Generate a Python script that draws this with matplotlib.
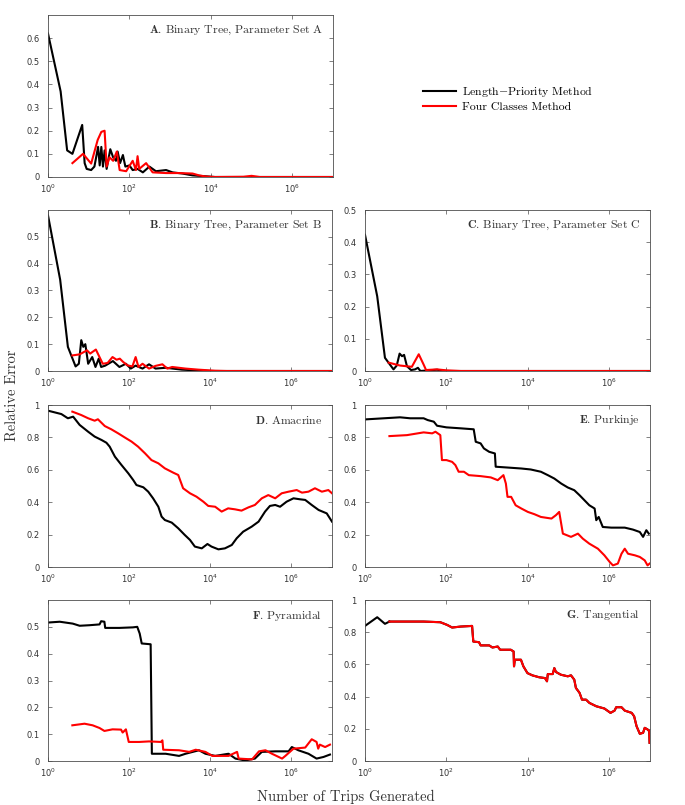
import numpy as np
import matplotlib
matplotlib.use("Agg")
import matplotlib.pyplot as plt
from matplotlib.ticker import FuncFormatter, NullLocator

plt.rcParams['mathtext.fontset'] = 'cm'
plt.rcParams['font.family'] = 'DejaVu Sans'

# ---- data (x given as log10 of trips generated) ----
a_black_logx = [0, 0.31, 0.47, 0.6, 0.84, 0.9, 0.95, 1.06, 1.14, 1.23, 1.27, 1.31, 1.35, 1.39,
                1.44, 1.53, 1.6, 1.67, 1.71, 1.77, 1.84, 1.9, 2.0, 2.08, 2.2, 2.33, 2.49, 2.65,
                2.9, 3.06, 3.3, 3.55, 3.88, 4.1, 7.0]
a_black_err = [0.62, 0.37, 0.115, 0.10, 0.225, 0.06, 0.035, 0.03, 0.045, 0.13, 0.05, 0.13, 0.045,
               0.115, 0.035, 0.12, 0.085, 0.07, 0.11, 0.06, 0.095, 0.045, 0.05, 0.03, 0.035, 0.02,
               0.045, 0.025, 0.03, 0.02, 0.015, 0.007, 0.003, 0.0, 0.0]
a_red_logx = [0.6, 0.86, 1.06, 1.22, 1.31, 1.39, 1.44, 1.51, 1.6, 1.69, 1.76, 1.92, 2.08, 2.16,
              2.2, 2.24, 2.41, 2.57, 2.9, 3.22, 3.55, 3.71, 3.88, 4.1, 4.8, 5.0, 5.2, 7.0]
a_red_err = [0.06, 0.1, 0.058, 0.16, 0.195, 0.2, 0.045, 0.085, 0.07, 0.11, 0.03, 0.025, 0.07, 0.03,
             0.09, 0.035, 0.06, 0.02, 0.017, 0.017, 0.015, 0.007, 0.002, 0.0, 0.001, 0.005, 0.0, 0.0]

b_black_logx = [0, 0.3, 0.49, 0.68, 0.76, 0.82, 0.87, 0.92, 0.99, 1.09, 1.17, 1.25, 1.31, 1.41,
                1.6, 1.76, 1.92, 2.04, 2.16, 2.33, 2.49, 2.65, 2.9, 3.3, 3.71, 4.0, 7.0]
b_black_err = [0.58, 0.34, 0.09, 0.017, 0.027, 0.115, 0.09, 0.1, 0.027, 0.052, 0.015, 0.046, 0.015,
               0.02, 0.037, 0.015, 0.027, 0.009, 0.02, 0.009, 0.025, 0.009, 0.012, 0.005, 0.002,
               0.0, 0.0]
b_red_logx = [0.6, 0.78, 0.96, 1.04, 1.18, 1.25, 1.35, 1.47, 1.59, 1.69, 1.77, 1.85, 1.96, 2.08,
              2.16, 2.23, 2.33, 2.49, 2.65, 2.82, 2.94, 3.06, 3.39, 3.71, 4.12, 4.4, 7.0]
b_red_err = [0.058, 0.062, 0.077, 0.065, 0.08, 0.058, 0.027, 0.03, 0.052, 0.042, 0.046, 0.034,
             0.021, 0.017, 0.052, 0.015, 0.027, 0.009, 0.019, 0.025, 0.009, 0.015, 0.009, 0.005,
             0.001, 0.0, 0.0]

c_black_logx = [0, 0.3, 0.49, 0.7, 0.78, 0.85, 0.91, 0.96, 1.03, 1.13, 1.23, 1.3, 1.36, 1.77,
                1.85, 2.0, 7.0]
c_black_err = [0.423, 0.232, 0.041, 0.005, 0.017, 0.054, 0.046, 0.05, 0.015, 0.003, 0.005, 0.01,
               0.0, 0.004, 0.002, 0.0, 0.0]
c_red_logx = [0.58, 0.86, 1.15, 1.32, 1.44, 1.5, 1.77, 2.0, 2.35, 7.0]
c_red_err = [0.026, 0.017, 0.013, 0.052, 0.02, 0.003, 0.005, 0.002, 0.0, 0.0]

d_black_logx = [0, 0.33, 0.49, 0.62, 0.78, 0.99, 1.15, 1.32, 1.44, 1.52, 1.65, 1.81, 1.98, 2.1,
                2.18, 2.35, 2.47, 2.59, 2.72, 2.8, 2.88, 3.05, 3.21, 3.37, 3.5, 3.62, 3.79, 3.93,
                4.03, 4.2, 4.36, 4.53, 4.65, 4.81, 5.02, 5.19, 5.35, 5.47, 5.6, 5.72, 5.88, 6.05,
                6.21, 6.34, 6.5, 6.67, 6.87, 7.0]
d_black_err = [0.965, 0.944, 0.918, 0.928, 0.877, 0.835, 0.805, 0.784, 0.767, 0.743, 0.681, 0.63,
               0.578, 0.537, 0.506, 0.492, 0.465, 0.424, 0.372, 0.311, 0.29, 0.274, 0.239, 0.198,
               0.167, 0.126, 0.115, 0.142, 0.126, 0.109, 0.115, 0.136, 0.177, 0.218, 0.249, 0.28,
               0.342, 0.377, 0.383, 0.372, 0.403, 0.424, 0.418, 0.414, 0.383, 0.352, 0.331, 0.28]
d_red_logx = [0.6, 0.82, 0.99, 1.15, 1.23, 1.4, 1.56, 1.73, 1.89, 2.06, 2.22, 2.39, 2.55, 2.72,
              2.88, 3.09, 3.21, 3.33, 3.5, 3.66, 3.83, 3.95, 4.12, 4.28, 4.44, 4.61, 4.77, 4.94,
              5.1, 5.27, 5.43, 5.6, 5.76, 5.93, 6.13, 6.26, 6.42, 6.58, 6.75, 6.91, 7.0]
d_red_err = [0.959, 0.938, 0.918, 0.903, 0.912, 0.87, 0.85, 0.825, 0.8, 0.774, 0.743, 0.702, 0.66,
             0.64, 0.609, 0.582, 0.568, 0.486, 0.455, 0.434, 0.403, 0.377, 0.372, 0.342, 0.362,
             0.356, 0.348, 0.368, 0.383, 0.424, 0.444, 0.424, 0.455, 0.465, 0.475, 0.459, 0.465,
             0.486, 0.465, 0.475, 0.455]

e_black_logx = [0, 0.86, 1.11, 1.44, 1.54, 1.69, 1.77, 2.0, 2.35, 2.67, 2.72, 2.84, 2.92, 3.05,
                3.19, 3.21, 3.5, 3.84, 4.07, 4.32, 4.49, 4.65, 4.82, 4.98, 5.14, 5.27, 5.39, 5.51,
                5.64, 5.68, 5.74, 5.84, 6.05, 6.38, 6.58, 6.75, 6.83, 6.91, 6.97]
e_black_err = [0.911, 0.924, 0.918, 0.918, 0.907, 0.897, 0.872, 0.862, 0.856, 0.85, 0.773, 0.763,
               0.732, 0.711, 0.701, 0.619, 0.614, 0.608, 0.602, 0.588, 0.567, 0.546, 0.515, 0.491,
               0.474, 0.443, 0.412, 0.381, 0.361, 0.289, 0.309, 0.247, 0.243, 0.243, 0.231, 0.216,
               0.186, 0.227, 0.206]
e_red_logx = [0.6, 1.03, 1.44, 1.65, 1.73, 1.85, 1.89, 2.0, 2.14, 2.22, 2.3, 2.43, 2.55, 2.84,
              3.09, 3.26, 3.4, 3.46, 3.5, 3.59, 3.7, 3.84, 4.0, 4.16, 4.32, 4.58, 4.69, 4.77,
              4.86, 5.06, 5.23, 5.35, 5.51, 5.72, 5.88, 6.01, 6.09, 6.21, 6.3, 6.38, 6.46, 6.63,
              6.75, 6.87, 6.94, 6.99]
e_red_err = [0.808, 0.814, 0.831, 0.825, 0.835, 0.814, 0.66, 0.66, 0.649, 0.629, 0.588, 0.588,
             0.567, 0.561, 0.553, 0.536, 0.567, 0.515, 0.433, 0.433, 0.381, 0.361, 0.34, 0.326,
             0.309, 0.299, 0.32, 0.34, 0.206, 0.186, 0.206, 0.175, 0.144, 0.113, 0.072, 0.031,
             0.01, 0.021, 0.082, 0.113, 0.082, 0.072, 0.062, 0.041, 0.01, 0.021]

f_black_logx = [0, 0.29, 0.61, 0.78, 1.02, 1.27, 1.31, 1.39, 1.41, 1.76, 2.09, 2.2, 2.26, 2.31,
                2.53, 2.56, 2.9, 3.23, 3.39, 3.72, 3.88, 4.12, 4.45, 4.62, 4.86, 5.1, 5.27, 5.6,
                5.93, 6.01, 6.17, 6.42, 6.62, 6.79, 6.95]
f_black_err = [0.516, 0.519, 0.512, 0.504, 0.506, 0.509, 0.521, 0.519, 0.496, 0.496, 0.498, 0.5,
               0.475, 0.438, 0.435, 0.027, 0.027, 0.019, 0.027, 0.04, 0.027, 0.019, 0.027, 0.009,
               0.002, 0.009, 0.034, 0.036, 0.036, 0.052, 0.04, 0.027, 0.009, 0.015, 0.024]
f_red_logx = [0.6, 0.9, 1.1, 1.27, 1.39, 1.59, 1.8, 1.84, 1.92, 1.99, 2.25, 2.49, 2.78, 2.82,
              2.84, 3.23, 3.48, 3.64, 3.88, 4.05, 4.45, 4.66, 4.7, 5.03, 5.2, 5.36, 5.52, 5.77,
              5.85, 6.05, 6.34, 6.5, 6.62, 6.66, 6.7, 6.83, 6.95]
f_red_err = [0.133, 0.139, 0.133, 0.123, 0.112, 0.118, 0.117, 0.106, 0.118, 0.071, 0.071, 0.073,
             0.071, 0.077, 0.042, 0.04, 0.034, 0.042, 0.034, 0.019, 0.019, 0.034, 0.009, 0.006,
             0.036, 0.04, 0.027, 0.009, 0.019, 0.046, 0.05, 0.081, 0.071, 0.046, 0.061, 0.052,
             0.061]

g_black_logx = [0, 0.3, 0.49, 0.6]
g_black_err = [0.839, 0.893, 0.852, 0.866]
g_red_logx = [0.6, 1.03, 1.44, 1.85, 2.02, 2.14, 2.35, 2.63, 2.66, 2.8, 2.84, 3.05, 3.13, 3.26,
              3.32, 3.58, 3.65, 3.66, 3.68, 3.83, 3.89, 3.99, 4.11, 4.28, 4.42, 4.47, 4.49, 4.61,
              4.65, 4.69, 4.81, 4.98, 5.06, 5.14, 5.18, 5.27, 5.33, 5.43, 5.51, 5.68, 5.88, 6.03,
              6.13, 6.17, 6.3, 6.38, 6.55, 6.61, 6.67, 6.75, 6.83, 6.87, 6.94, 6.98, 6.99]
g_red_err = [0.866, 0.866, 0.866, 0.862, 0.845, 0.829, 0.835, 0.839, 0.742, 0.738, 0.718, 0.718,
             0.705, 0.711, 0.691, 0.691, 0.68, 0.588, 0.629, 0.629, 0.588, 0.546, 0.532, 0.52,
             0.515, 0.495, 0.54, 0.54, 0.577, 0.553, 0.536, 0.526, 0.532, 0.505, 0.454, 0.423,
             0.381, 0.381, 0.361, 0.34, 0.326, 0.299, 0.313, 0.334, 0.334, 0.313, 0.299, 0.278,
             0.216, 0.169, 0.175, 0.206, 0.196, 0.186, 0.113]

panel_titles = ['A', 'B', 'C', 'D', 'E', 'F', 'G']
panel_names = ['Binary Tree, Parameter Set A', 'Binary Tree, Parameter Set B',
               'Binary Tree, Parameter Set C', 'Amacrine', 'Purkinje', 'Pyramidal', 'Tangential']
panel_ymax = [0.7, 0.6, 0.5, 1.0, 1.0, 0.6, 1.0]
panel_yticks = [np.arange(0, 0.61, 0.1), np.arange(0, 0.51, 0.1), np.arange(0, 0.51, 0.1),
                np.arange(0, 1.01, 0.2), np.arange(0, 1.01, 0.2), np.arange(0, 0.51, 0.1),
                np.arange(0, 1.01, 0.2)]
series = [
    (a_black_logx, a_black_err, a_red_logx, a_red_err),
    (b_black_logx, b_black_err, b_red_logx, b_red_err),
    (c_black_logx, c_black_err, c_red_logx, c_red_err),
    (d_black_logx, d_black_err, d_red_logx, d_red_err),
    (e_black_logx, e_black_err, e_red_logx, e_red_err),
    (f_black_logx, f_black_err, f_red_logx, f_red_err),
    (g_black_logx, g_black_err, g_red_logx, g_red_err),
]
legend_labels = [r'Length$-$Priority Method', 'Four Classes Method']

W, H = 685, 805
fig = plt.figure(figsize=(W / 100, H / 100), dpi=100)

# axes boxes in pixels: (left, top, right, bottom)
boxes = [(48, 15, 333, 177),
         (48, 210, 332, 371), (365, 210, 650, 371),
         (48, 405, 332, 567), (365, 405, 650, 567),
         (48, 600, 332, 761), (365, 600, 650, 761)]

axis_grey = '#4d4d4d'
for i, (l, t, r, b) in enumerate(boxes):
    ax = fig.add_axes([l / W, 1 - b / H, (r - l) / W, (b - t) / H])
    bx, by, rx, ry = series[i]
    black_line, = ax.plot(10 ** np.array(bx), by, color='black', lw=1.5)
    if i == 6:
        # black curve runs underneath the red one after the first points
        ax.plot(10 ** np.array(rx), ry, color='black', lw=1.5)
    red_line, = ax.plot(10 ** np.array(rx), ry, color='#ff0000', lw=1.5)

    ax.set_xscale('log')
    ax.set_xlim(1, 1e7)
    ax.set_ylim(0, panel_ymax[i])
    ax.set_xticks([1, 1e2, 1e4, 1e6])
    ax.xaxis.set_minor_locator(NullLocator())
    ax.set_yticks(panel_yticks[i])
    ax.yaxis.set_major_formatter(FuncFormatter(lambda v, p: f'{round(v, 2):g}'))
    ax.tick_params(direction='in', top=True, right=True, length=3, width=0.5,
                   colors=axis_grey, labelsize=6, labelcolor='#333333')
    ax.tick_params(axis='y', pad=6)
    ax.tick_params(axis='x', pad=4)
    for s in ax.spines.values():
        s.set_color(axis_grey)
        s.set_linewidth(0.6)

    ax.text(0.965, 0.905, r'$\mathbf{' + panel_titles[i] + r'}$. ' + panel_names[i],
            transform=ax.transAxes, ha='right', va='center', fontsize=8.5,
            family='cmr10', color='#333333')

    if i == 0:
        handles = [black_line, red_line]

fig.legend(handles, legend_labels, loc='center left', bbox_to_anchor=(418 / W, 1 - 98 / H),
           frameon=False, prop={'family': 'cmr10', 'size': 8.5}, handlelength=2.8,
           handletextpad=0.5, labelspacing=0.25, borderaxespad=0)

fig.text(346 / W, 1 - 797 / H, 'Number of Trips Generated', ha='center', va='center',
         family='cmr10', fontsize=10.5, color='#333333')
fig.text(12 / W, 1 - 395 / H, 'Relative Error', ha='center', va='center', rotation=90,
         family='cmr10', fontsize=10.5, color='#333333')

fig.savefig('out.png', dpi=100)
